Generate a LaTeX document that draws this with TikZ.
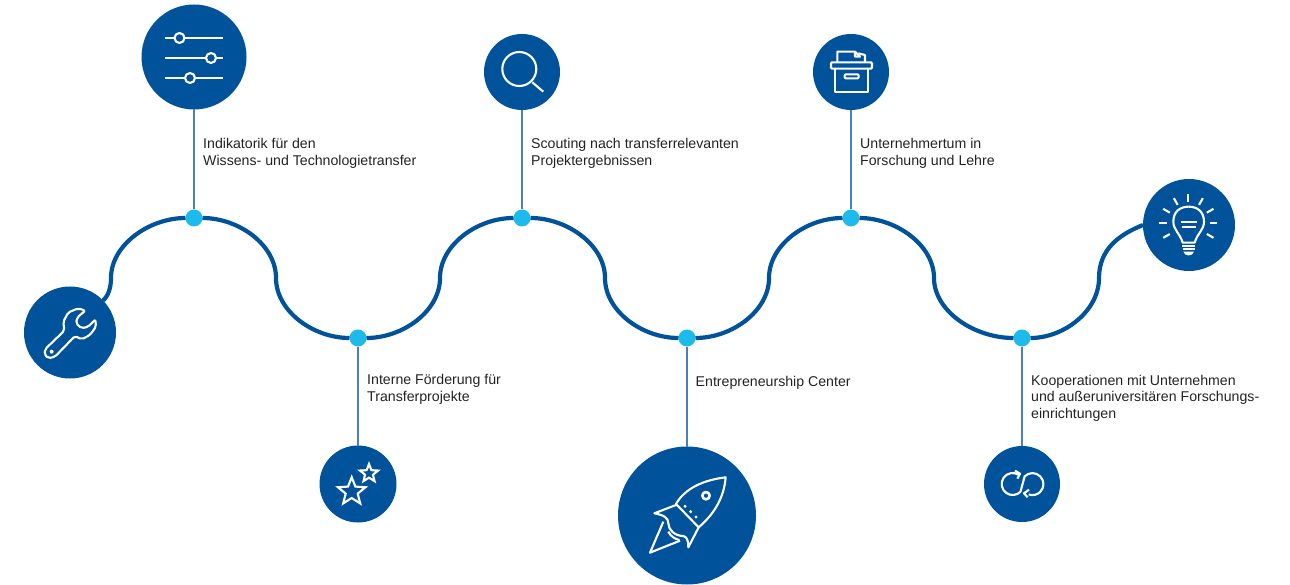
\documentclass[tikz,border=0pt]{standalone}
\usepackage{fontspec}
\setmainfont{Liberation Sans}
\usetikzlibrary{shapes.geometric}
\definecolor{tubase}{RGB}{0,82,155}
\definecolor{tudot}{RGB}{28,187,235}
\definecolor{tustem}{RGB}{72,128,184}
\definecolor{tutext}{RGB}{35,35,35}
\tikzset{
  badge/.style={circle,fill=tubase,inner sep=0pt,outer sep=0pt,minimum size=#1},
  marker/.style={circle,fill=tudot,inner sep=0pt,outer sep=0pt,minimum size=17pt},
  wave/.style={draw=tubase,line width=4.2pt},
  stem/.style={draw=tustem,line width=2pt},
  label/.style={anchor=north west,align=left,inner sep=0pt,text=tutext,font=\fontsize{14.15}{17.4}\selectfont},
  icon/.style={draw=white,line width=2.1pt,line join=round},
  starline/.style={star,star points=5,star point ratio=2.3,draw=white,line width=2.1pt,inner sep=0pt}
}
\begin{document}
\begin{tikzpicture}[x=1pt,y=-1pt]
\useasboundingbox (0,0) rectangle (1290,585);

\node[badge=92pt] (wrench) at (70,332.5) {};
\node[badge=105pt] (sliders) at (194,57) {};
\node[badge=77pt] (stars) at (358,484) {};
\node[badge=76pt] (search) at (522,72) {};
\node[badge=138pt] (rocket) at (687,515.5) {};
\node[badge=76pt] (archive) at (851,72) {};
\node[badge=92pt] (bulb) at (1189,225) {};
\node[badge=76pt] (loop) at (1022,484) {};

\node[marker] (dotA) at (194,218) {};
\node[marker] (dotB) at (358,338) {};
\node[marker] (dotC) at (522,218) {};
\node[marker] (dotD) at (687,338) {};
\node[marker] (dotE) at (851,218) {};
\node[marker] (dotF) at (1022,338) {};

\coordinate (w1) at (111,278);
\coordinate (w2) at (276,278);
\coordinate (w3) at (440,278);
\coordinate (w4) at (605,278);
\coordinate (w5) at (769,278);
\coordinate (w6) at (934,278);
\coordinate (w7) at (1099,278);

\draw[wave] (wrench) .. controls (108,296) and (111,288) .. (w1);
\draw[wave] (w1) .. controls +(0,-33) and +(-45,0) .. (dotA);
\draw[wave] (dotA) .. controls +(45,0) and +(0,-33) .. (w2);
\draw[wave] (w2) .. controls +(0,33) and +(-45,0) .. (dotB);
\draw[wave] (dotB) .. controls +(45,0) and +(0,33) .. (w3);
\draw[wave] (w3) .. controls +(0,-33) and +(-45,0) .. (dotC);
\draw[wave] (dotC) .. controls +(45,0) and +(0,-33) .. (w4);
\draw[wave] (w4) .. controls +(0,33) and +(-45,0) .. (dotD);
\draw[wave] (dotD) .. controls +(45,0) and +(0,33) .. (w5);
\draw[wave] (w5) .. controls +(0,-33) and +(-45,0) .. (dotE);
\draw[wave] (dotE) .. controls +(45,0) and +(0,-33) .. (w6);
\draw[wave] (w6) .. controls +(0,33) and +(-48,0) .. (dotF);
\draw[wave] (dotF) .. controls +(42,0) and +(0,33) .. (w7);
\draw[wave] (w7) .. controls (1099,250) and (1118,235) .. (bulb.west);

\draw[stem] (sliders) -- (dotA);
\draw[stem] (dotB) -- (stars);
\draw[stem] (search) -- (dotC);
\draw[stem] (dotD) -- (rocket);
\draw[stem] (archive) -- (dotE);
\draw[stem] (dotF) -- (loop);

\node[label] (textA) at (203,138) {Indikatorik für den\\Wissens- und Technologietransfer};
\node[label] (textB) at (367,374) {Interne Förderung für\\Transferprojekte};
\node[label] (textC) at (531,138) {Scouting nach transferrelevanten\\Projektergebnissen};
\node[label] (textD) at (695.5,376) {Entrepreneurship Center};
\node[label] (textE) at (860,138) {Unternehmertum in\\Forschung und Lehre};
\node[label,font=\fontsize{14.15}{16.4}\selectfont] (textF) at (1031,375) {Kooperationen mit Unternehmen\\und außeruniversitären Forschungs-\\einrichtungen};

\begin{scope}[shift={(10,280)},scale=1/3]
\draw[icon,rounded corners=2pt] (106,207) -- (163,152) -- (160,125) -- (175,97) -- (205,85) -- (226,92)
  -- (202,112) -- (198,130) -- (215,145) -- (235,140) -- (256,118) -- (258,140) -- (240,165) -- (215,178)
  -- (195,168) -- (135,230) -- (115,235) -- (103,222) -- cycle;
\fill[white] (125,215) circle[radius=6];
\end{scope}

\begin{scope}[icon]
\draw (165,38) -- (223,38);
\draw (165,58) -- (223,58);
\draw (165,78) -- (223,78);
\draw[fill=tubase] (179.5,38) circle[radius=5];
\draw[fill=tubase] (211,58) circle[radius=5];
\draw[fill=tubase] (190,78) circle[radius=5];
\end{scope}

\node[starline,minimum size=29pt] (bigStar) at (351.7,491.7) {};
\node[starline,minimum size=19pt] (smallStar) at (369,473.5) {};

\begin{scope}[icon]
\draw (519.3,69) circle[radius=17];
\draw (532.3,82.3) -- (543.3,91.7);
\end{scope}

\begin{scope}[shift={(600,430)},scale=1/3]
\draw[icon] (228,222) .. controls (255,175) and (310,150) .. (377,142) .. controls (372,205) and (340,255) .. (296,292) -- cycle;
\draw[icon] (228,225) -- (163,250) .. controls (190,255) and (205,262) .. (205,280) .. controls (205,300) and (225,318) .. (250,318) .. controls (262,320) and (265,335) .. (265,352) -- (296,292);
\draw[icon] (190,275) -- (150,368) -- (240,332);
\draw[icon] (205,305) .. controls (212,318) and (222,326) .. (238,330);
\draw[icon,line width=2.6pt] (318,197) circle[radius=11];
\fill[white] (255,229) circle[radius=5];
\fill[white] (272,245) circle[radius=5];
\fill[white] (288,261) circle[radius=5];
\end{scope}

\begin{scope}[shift={(800,25)},scale=1/3]
\draw[icon] (112,112) -- (112,80) -- (165,80) -- (165,95) -- (180,95) -- (165,80);
\draw[icon] (175,85) -- (195,90) -- (195,112);
\draw[icon,rounded corners=1pt] (93,112) rectangle (216,131);
\draw[icon] (105,131) -- (105,202) -- (205,202) -- (205,131);
\draw[icon,rounded corners=1pt] (134,148) rectangle (176,160);
\end{scope}

\begin{scope}[shift={(1130,170)},scale=1/3]
\foreach \ang in {-90,-60,-30,0,30,-120,-150,180,150}
  \draw[icon] ([shift={(\ang:64)}]175,160) -- ([shift={(\ang:87)}]175,160);
\draw[icon] (158,218) .. controls (150,190) and (130,180) .. (130,155) .. controls (130,125) and (150,110) .. (176,110)
  .. controls (202,110) and (222,125) .. (222,155) .. controls (222,180) and (202,190) .. (194,218) -- cycle;
\draw[icon] (152,155) -- (200,155);
\draw[icon] (155,170) -- (198,170);
\draw[icon] (156,228) -- (196,228);
\draw[icon] (158,238) -- (194,238);
\fill[white] (160,245) -- (192,245) .. controls (188,260) and (164,260) .. (160,245) -- cycle;
\end{scope}

\begin{scope}[shift={(970,440)},scale=1/3]
\draw[icon] (128,132) ++(-55:33) arc[start angle=-55,end angle=-315,radius=33] -- (164,109) arc[start angle=225,end angle=470,radius=33];
\draw[icon] (135,92) -- (150,101) -- (142,116);
\draw[icon] (177,149) -- (162,160) -- (173,172);
\end{scope}
\end{tikzpicture}
\end{document}
